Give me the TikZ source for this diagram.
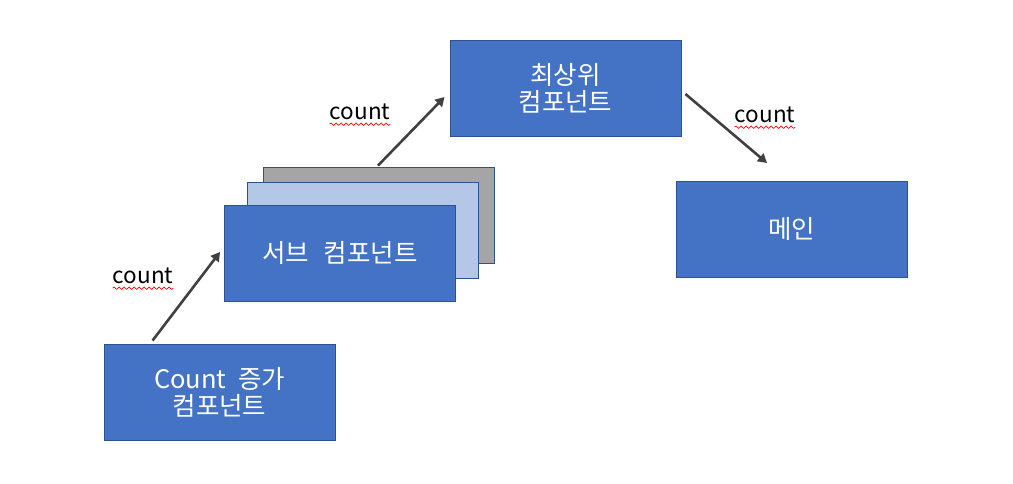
\documentclass[tikz,border=0pt]{standalone}
\usepackage{fontspec}
\setmainfont{Noto Sans CJK KR}
\usetikzlibrary{arrows.meta,decorations.pathmorphing,calc}
\definecolor{boxblue}{HTML}{4472C4}
\definecolor{boxedge}{HTML}{2F528F}
\definecolor{lightblue}{HTML}{B4C7E7}
\definecolor{boxgray}{HTML}{A5A5A5}
\definecolor{arrowgray}{HTML}{404040}
\tikzset{
  comp/.style={draw=boxedge, line width=0.9pt, fill=boxblue, minimum width=231pt, minimum height=96pt,
    text=white, font=\fontsize{25.5}{27}\selectfont, align=center, inner sep=0pt},
  link/.style={draw=arrowgray, line width=2.6pt, -{Triangle[length=9pt,width=10pt]}},
  lbl/.style={font=\fontsize{22.5}{25}\selectfont, text=black, inner sep=0pt},
  squig/.style={draw=red, line width=0.7pt, decorate, decoration={snake, amplitude=1.2pt, segment length=5pt}}
}
\begin{document}
\begin{tikzpicture}[x=1pt,y=-1pt]
\useasboundingbox (0,0) rectangle (1013,484);
% stacked sub components
\node[comp, fill=boxgray] (back) at (378.5,215) {};
\node[comp, fill=lightblue] (mid) at (363,230) {};
\node[comp] (sub) at (340,253) {서브\hspace{9pt} 컴포넌트};
\node[comp] (cnt) at (219.5,392) {Count\hspace{6pt} 증가\\컴포넌트};
\node[comp] (top) at (565.5,88) {최상위\\컴포넌트};
\node[comp] (main) at (791.5,229) {메인};
% connector end points
\coordinate (a1s) at ($(cnt.north west)+(49,-3)$);
\coordinate (a1e) at ($(sub.west)+(-4,-1)$);
\coordinate (a2s) at ($(back.north)+(-0.5,-1)$);
\coordinate (a2e) at ($(top.west)+(-5,9)$);
\coordinate (a3s) at ($(top.east)+(4,6)$);
\coordinate (a3e) at (767,163);
\draw[link] (a1s) -- (a1e);
\draw[link] (a2s) -- (a2e);
\draw[link] (a3s) -- (a3e);
% labels
\node[lbl] (l1) at (143,276) {count};
\node[lbl] (l2) at (360,112) {count};
\node[lbl] (l3) at (765,115) {count};
\draw[squig] ($(l1.south west)+(0,4)$) -- ($(l1.south east)+(0,4)$);
\draw[squig] ($(l2.south west)+(0,4)$) -- ($(l2.south east)+(0,4)$);
\draw[squig] ($(l3.south west)+(0,4)$) -- ($(l3.south east)+(0,4)$);
\end{tikzpicture}
\end{document}
